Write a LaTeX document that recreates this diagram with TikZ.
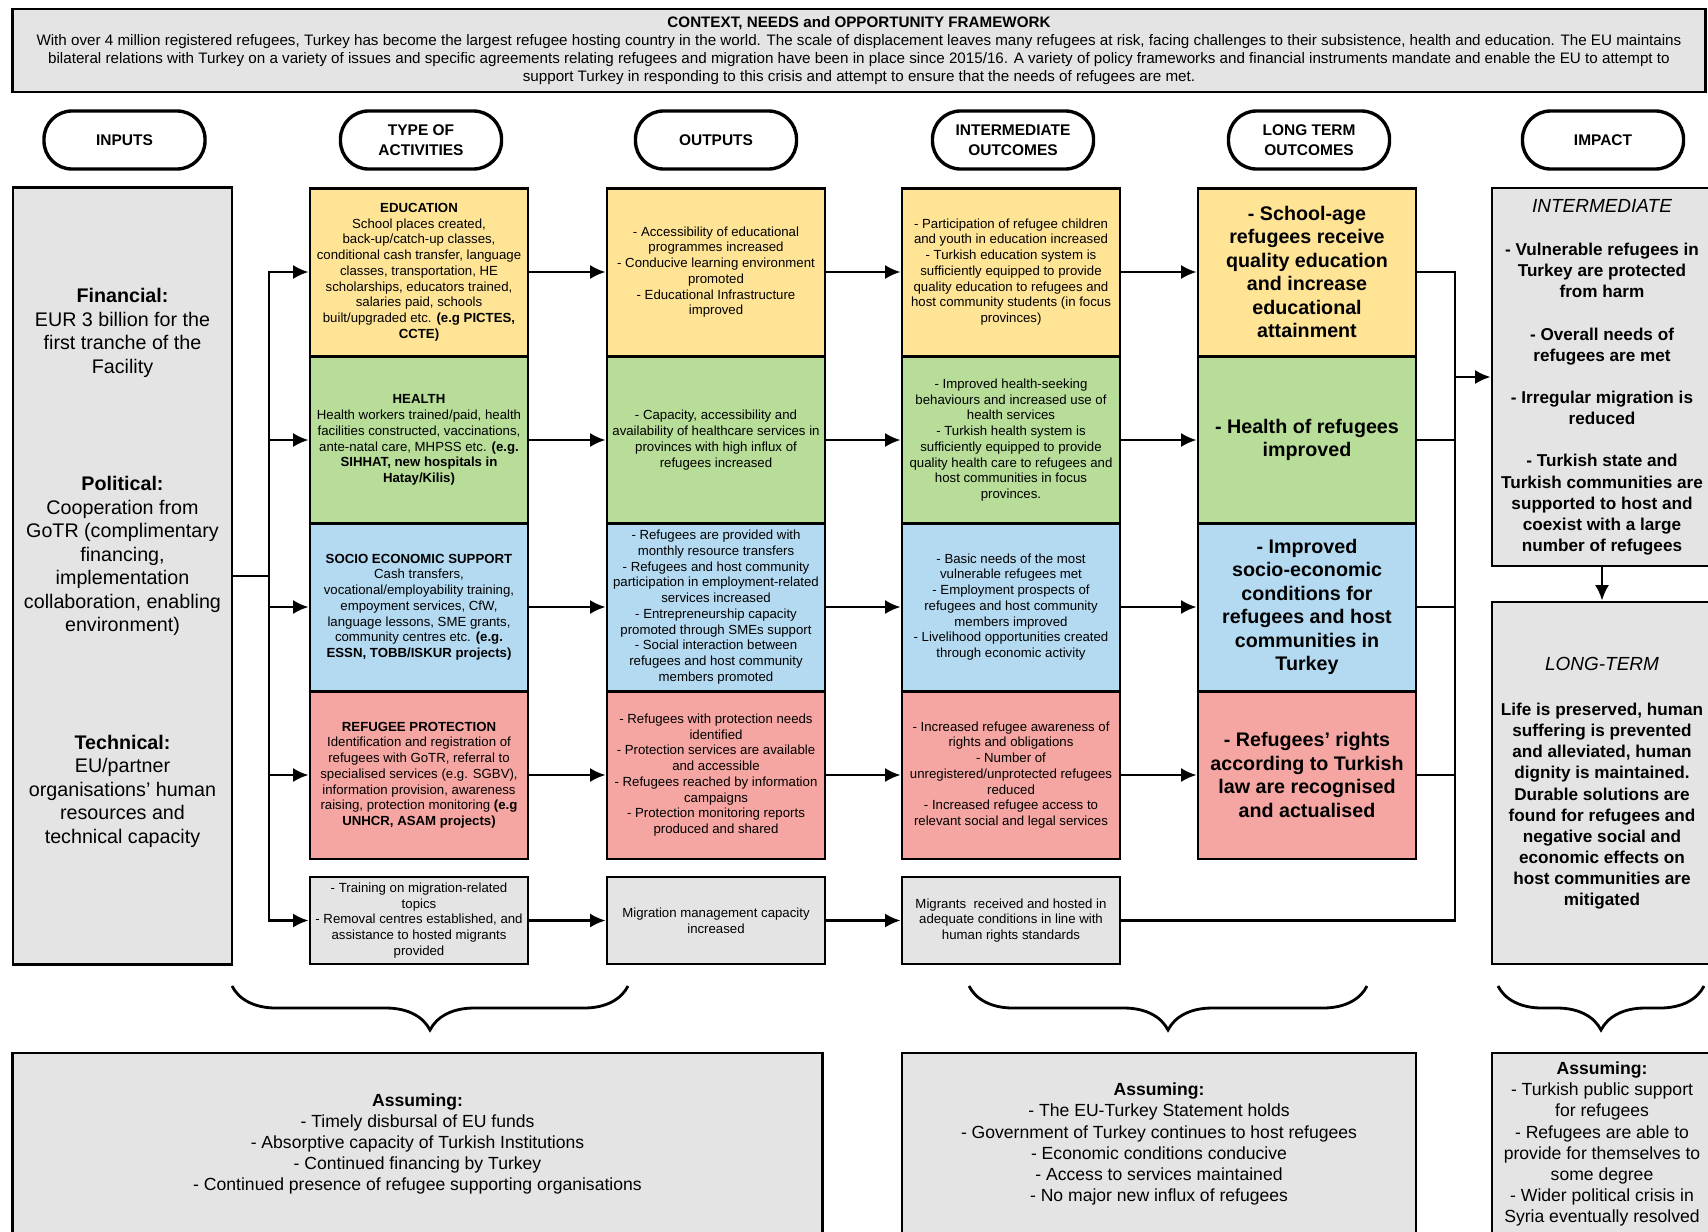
\documentclass[tikz,border=0pt]{standalone}
\usepackage{fontspec}
\setmainfont{Liberation Sans}
\usetikzlibrary{arrows.meta}
\usetikzlibrary{decorations.pathreplacing}
\usepackage{xcolor}
\definecolor{eduyellow}{RGB}{255,228,150}
\definecolor{healthgreen}{RGB}{183,221,152}
\definecolor{socioblue}{RGB}{180,218,242}
\definecolor{protred}{RGB}{245,166,162}
\definecolor{boxgrey}{RGB}{228,228,228}

\begin{document}
\begin{tikzpicture}[x=0.025cm, y=-0.025cm,
    box/.style={draw, line width=2pt, align=center, inner sep=0pt, minimum width=5.45cm, minimum height=4.194cm, font=\fontsize{9.4}{11.2}\selectfont},
    ltbox/.style={box, font=\bfseries\fontsize{14}{16.7}\selectfont},
    greybox/.style={draw, line width=2pt, align=center, inner sep=0pt, fill=boxgrey},
    pill/.style={draw, line width=2.4pt, rounded corners=0.7cm, fill=white, align=center, minimum width=4.025cm, minimum height=1.45cm, font=\bfseries\fontsize{11}{14}\selectfont},
    arr/.style={-{Latex[length=11pt,width=10pt]}, line width=1.8pt},
    conn/.style={line width=1.8pt},
    curly/.style={decorate, decoration={brace, mirror, amplitude=1.1cm}, line width=2pt}]
    \useasboundingbox (0,0) rectangle (1708,1231);

    % context
    \node[greybox, minimum width=42.3cm, minimum height=2.075cm, font=\fontsize{10.8}{12.8}\selectfont] (context) at (859,50.5) {\textbf{CONTEXT, NEEDS and OPPORTUNITY FRAMEWORK}\\With over 4 million registered refugees, Turkey has become the largest refugee hosting country in the world. The scale of displacement leaves many refugees at risk, facing challenges to their subsistence, health and education. The EU maintains\\bilateral relations with Turkey on a variety of issues and specific agreements relating refugees and migration have been in place since 2015/16. A variety of policy frameworks and financial instruments mandate and enable the EU to attempt to\\support Turkey in responding to this crisis and attempt to ensure that the needs of refugees are met.};

    % column headings
    \node[pill] (h-in) at (124.5,140) {INPUTS};
    \node[pill] (h-act) at (421,140) {TYPE OF\\ACTIVITIES};
    \node[pill] (h-out) at (716,140) {OUTPUTS};
    \node[pill] (h-int) at (1013,140) {INTERMEDIATE\\OUTCOMES};
    \node[pill] (h-lt) at (1309,140) {LONG TERM\\OUTCOMES};
    \node[pill] (h-imp) at (1603,140) {IMPACT};

    % inputs
    \node[greybox, minimum width=5.475cm, minimum height=19.4cm, font=\fontsize{14}{16.7}\selectfont] (inputs) at (122.5,576) {\textbf{Financial:}\\EUR 3 billion for the\\first tranche of the\\Facility\\[2.35cm]\textbf{Political:}\\Cooperation from\\GoTR (complimentary\\financing,\\implementation\\collaboration, enabling\\environment)\\[2.35cm]\textbf{Technical:}\\EU/partner\\organisations' human\\resources and\\technical capacity\\[-0.08cm]\mbox{}};

    % activities
    \node[box, fill=eduyellow] (edu-act) at (419,272) {\textbf{EDUCATION}\\School places created,\\back-up/catch-up classes,\\conditional cash transfer, language\\classes, transportation, HE\\scholarships, educators trained,\\salaries paid, schools\\built/upgraded etc. \textbf{(e.g PICTES,}\\\textbf{CCTE)}};
    \node[box, fill=healthgreen] (hea-act) at (419,440) {\textbf{HEALTH}\\Health workers trained/paid, health\\facilities constructed, vaccinations,\\ante-natal care, MHPSS etc. \textbf{(e.g.}\\\textbf{SIHHAT, new hospitals in}\\\textbf{Hatay/Kilis)}};
    \node[box, fill=socioblue] (soc-act) at (419,607) {\textbf{SOCIO ECONOMIC SUPPORT}\\Cash transfers,\\vocational/employability training,\\empoyment services, CfW,\\language lessons, SME grants,\\community centres etc. \textbf{(e.g.}\\\textbf{ESSN, TOBB/ISKUR projects)}};
    \node[box, fill=protred] (pro-act) at (419,775) {\textbf{REFUGEE PROTECTION}\\Identification and registration of\\refugees with GoTR, referral to\\specialised services (e.g. SGBV),\\information provision, awareness\\raising, protection monitoring \textbf{(e.g}\\\textbf{UNHCR, ASAM projects)}};
    \node[box, fill=boxgrey, minimum height=2.175cm] (mig-act) at (419,920.5) {- Training on migration-related\\topics\\- Removal centres established, and\\assistance to hosted migrants\\provided};

    % outputs
    \node[box, fill=eduyellow] (edu-out) at (716,272) {- Accessibility of educational\\programmes increased\\- Conducive learning environment\\promoted\\- Educational Infrastructure\\improved};
    \node[box, fill=healthgreen] (hea-out) at (716,440) {- Capacity, accessibility and\\availability of healthcare services in\\provinces with high influx of\\refugees increased};
    \node[box, fill=socioblue] (soc-out) at (716,607) {- Refugees are provided with\\monthly resource transfers\\- Refugees and host community\\participation in employment-related\\services increased\\- Entrepreneurship capacity\\promoted through SMEs support\\- Social interaction between\\refugees and host community\\members promoted};
    \node[box, fill=protred] (pro-out) at (716,775) {- Refugees with protection needs\\identified\\- Protection services are available\\and accessible\\- Refugees reached by information\\campaigns\\- Protection monitoring reports\\produced and shared};
    \node[box, fill=boxgrey, minimum height=2.175cm] (mig-out) at (716,920.5) {Migration management capacity\\increased};

    % intermediate outcomes
    \node[box, fill=eduyellow] (edu-int) at (1011,272) {- Participation of refugee children\\and youth in education increased\\- Turkish education system is\\sufficiently equipped to provide\\quality education to refugees and\\host community students (in focus\\provinces)};
    \node[box, fill=healthgreen] (hea-int) at (1011,440) {- Improved health-seeking\\behaviours and increased use of\\health services\\- Turkish health system is\\sufficiently equipped to provide\\quality health care to refugees and\\host communities in focus\\provinces.};
    \node[box, fill=socioblue] (soc-int) at (1011,607) {- Basic needs of the most\\vulnerable refugees met\\- Employment prospects of\\refugees and host community\\members improved\\- Livelihood opportunities created\\through economic activity};
    \node[box, fill=protred] (pro-int) at (1011,775) {- Increased refugee awareness of\\rights and obligations\\- Number of\\unregistered/unprotected refugees\\reduced\\- Increased refugee access to\\relevant social and legal services};
    \node[box, fill=boxgrey, minimum height=2.175cm] (mig-int) at (1011,920.5) {Migrants\ \ received and hosted in\\adequate conditions in line with\\human rights standards};

    % long term outcomes
    \node[ltbox, fill=eduyellow] (edu-lt) at (1307,272) {- School-age\\refugees receive\\quality education\\and increase\\educational\\attainment};
    \node[ltbox, fill=healthgreen] (hea-lt) at (1307,440) {- Health of refugees\\improved};
    \node[ltbox, fill=socioblue] (soc-lt) at (1307,607) {- Improved\\socio-economic\\conditions for\\refugees and host\\communities in\\Turkey};
    \node[ltbox, fill=protred] (pro-lt) at (1307,775) {- Refugees' rights\\according to Turkish\\law are recognised\\and actualised};

    % impact
    \node[greybox, minimum width=5.5cm, minimum height=9.45cm, font=\bfseries\fontsize{12.2}{15}\selectfont] (imp-int) at (1602,377) {{\mdseries\itshape\fontsize{13.5}{15}\selectfont INTERMEDIATE}\\[0.56cm]- Vulnerable refugees in\\Turkey are protected\\from harm\\[0.53cm]- Overall needs of\\refugees are met\\[0.53cm]- Irregular migration is\\reduced\\[0.53cm]- Turkish state and\\Turkish communities are\\supported to host and\\coexist with a large\\number of refugees};
    \node[greybox, minimum width=5.5cm, minimum height=9.05cm, font=\bfseries\fontsize{12.2}{15}\selectfont] (imp-lt) at (1602,783) {{\mdseries\itshape\fontsize{13.5}{15}\selectfont LONG-TERM}\\[0.61cm]Life is preserved, human\\suffering is prevented\\and alleviated, human\\dignity is maintained.\\Durable solutions are\\found for refugees and\\negative social and\\economic effects on\\host communities are\\mitigated};

    % assumptions
    \node[greybox, minimum width=20.225cm, minimum height=4.55cm, font=\fontsize{12.5}{15}\selectfont] (asm-a) at (417.5,1144) {\textbf{Assuming:}\\- Timely disbursal of EU funds\\- Absorptive capacity of Turkish Institutions\\- Continued financing by Turkey\\- Continued presence of refugee supporting organisations};
    \node[greybox, minimum width=12.85cm, minimum height=4.55cm, font=\fontsize{12.5}{15}\selectfont] (asm-b) at (1159,1144) {\textbf{Assuming:}\\- The EU-Turkey Statement holds\\- Government of Turkey continues to host refugees\\- Economic conditions conducive\\- Access to services maintained\\- No major new influx of refugees};
    \node[greybox, minimum width=5.5cm, minimum height=4.55cm, font=\fontsize{12.5}{15}\selectfont] (asm-c) at (1602,1144) {\textbf{Assuming:}\\- Turkish public support\\for refugees\\- Refugees are able to\\provide for themselves to\\some degree\\- Wider political crisis in\\Syria eventually resolved};

    % connectors
    \coordinate (split) at (269,576);
    \coordinate (merge) at (1455,377);
    \draw[conn] (inputs) -- (split);
    \foreach \r in {edu,hea,soc,pro,mig} {
        \draw[arr] (split) |- (\r-act);
        \draw[arr] (\r-act) -- (\r-out);
        \draw[arr] (\r-out) -- (\r-int);
    }
    \foreach \r in {edu,hea,soc,pro} {
        \draw[arr] (\r-int) -- (\r-lt);
        \draw[conn] (\r-lt) -| (merge);
    }
    \draw[conn] (mig-int) -| (merge);
    \draw[arr] (merge) -- (imp-int);
    \draw[arr] (imp-int) -- (imp-lt);

    % braces
    \draw[curly] (232,986) -- (628,986);
    \draw[curly] (969,986) -- (1367,986);
    \draw[curly] (1498,986) -- (1704,986);
\end{tikzpicture}
\end{document}
